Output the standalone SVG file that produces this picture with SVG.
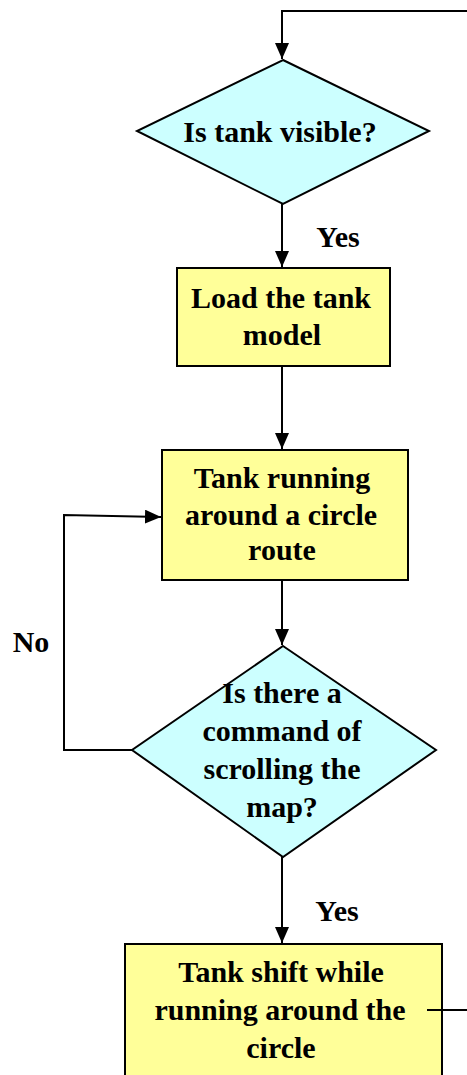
<svg xmlns="http://www.w3.org/2000/svg" width="467" height="1075" viewBox="0 0 467 1075">
  <style>
    .lbl { font-family: "Liberation Serif", "Times New Roman", serif; font-weight: bold; font-size: 30px; fill: #000; text-anchor: middle; }
    .dec { fill: #ccffff; stroke: #000; stroke-width: 2; }
    .proc { fill: #ffff99; stroke: #000; stroke-width: 2; }
    .wire { fill: none; stroke: #000; stroke-width: 2; }
  </style>
  <defs>
    <marker id="arrow" markerUnits="userSpaceOnUse" markerWidth="16" markerHeight="14" refX="16" refY="7" orient="auto">
      <path d="M0,0 L16,7 L0,14 Z" fill="#000"/>
    </marker>
  </defs>
  <rect width="467" height="1075" fill="#fff"/>

  <g id="tank-visible">
    <polygon class="dec" points="283,60 429,131 283,204 137,131"/>
    <text class="lbl" x="280" y="142">Is tank visible?</text>
  </g>

  <g id="load-model">
    <rect class="proc" x="177" y="268" width="213" height="98"/>
    <text class="lbl" x="281" y="308">Load the tank</text>
    <text class="lbl" x="282" y="345">model</text>
  </g>

  <g id="circle-route">
    <rect class="proc" x="162" y="450" width="246" height="130"/>
    <text class="lbl" x="282" y="488">Tank running</text>
    <text class="lbl" x="281" y="525">around a circle</text>
    <text class="lbl" x="282" y="560">route</text>
  </g>

  <g id="scroll-command">
    <polygon class="dec" points="283,646 436,750 283,857 132,750"/>
    <text class="lbl" x="282" y="703">Is there a</text>
    <text class="lbl" x="282" y="741">command of</text>
    <text class="lbl" x="282" y="779">scrolling the</text>
    <text class="lbl" x="282" y="817">map?</text>
  </g>

  <g id="tank-shift">
    <rect class="proc" x="125" y="944" width="317" height="150"/>
    <text class="lbl" x="281" y="982">Tank shift while</text>
    <text class="lbl" x="280" y="1020">running around the</text>
    <text class="lbl" x="281" y="1058">circle</text>
  </g>

  <g id="connectors">
    <polyline class="wire" points="467,11 282,11 282,59" marker-end="url(#arrow)"/>
    <line class="wire" x1="282" y1="204" x2="282" y2="267" marker-end="url(#arrow)"/>
    <line class="wire" x1="282" y1="366" x2="282" y2="449" marker-end="url(#arrow)"/>
    <line class="wire" x1="282" y1="580" x2="282" y2="645" marker-end="url(#arrow)"/>
    <polyline class="wire" points="132,750 64,750 64,515 161,517" marker-end="url(#arrow)"/>
    <line class="wire" x1="282" y1="857" x2="282" y2="943" marker-end="url(#arrow)"/>
    <line class="wire" x1="427" y1="1010" x2="467" y2="1010"/>
    <text class="lbl" x="338" y="247">Yes</text>
    <text class="lbl" x="337" y="921">Yes</text>
    <text class="lbl" x="31" y="652">No</text>
  </g>
</svg>
